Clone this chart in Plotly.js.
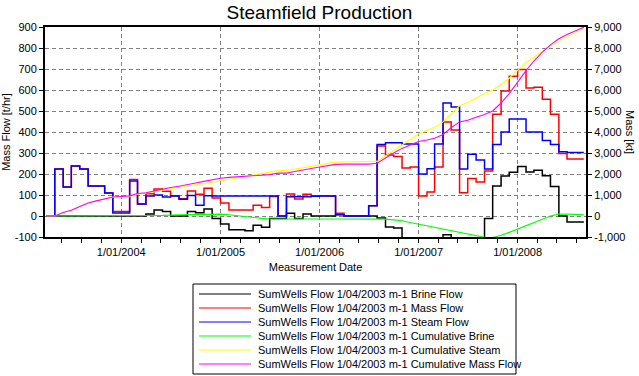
<!DOCTYPE html>
<html><head><meta charset="utf-8">
<script src="https://cdn.plot.ly/plotly-3.0.1.min.js"></script>
<style>html,body{margin:0;padding:0;background:#fff}#chart{width:639px;height:376px}</style>
</head><body><div id="chart"></div>
<script>
// ---- data ----
const months = [
 '2003-04-01','2003-05-01','2003-06-01','2003-07-01','2003-08-01','2003-09-01','2003-10-01','2003-11-01','2003-12-01',
 '2004-01-01','2004-02-01','2004-03-01','2004-04-01','2004-05-01','2004-06-01','2004-07-01','2004-08-01','2004-09-01','2004-10-01','2004-11-01','2004-12-01',
 '2005-01-01','2005-02-01','2005-03-01','2005-04-01','2005-05-01','2005-06-01','2005-07-01','2005-08-01','2005-09-01','2005-10-01','2005-11-01','2005-12-01',
 '2006-01-01','2006-02-01','2006-03-01','2006-04-01','2006-05-01','2006-06-01','2006-07-01','2006-08-01','2006-09-01','2006-10-01','2006-11-01','2006-12-01',
 '2007-01-01','2007-02-01','2007-03-01','2007-04-01','2007-05-01','2007-06-01','2007-07-01','2007-08-01','2007-09-01','2007-10-01','2007-11-01','2007-12-01',
 '2008-01-01','2008-02-01','2008-03-01','2008-04-01','2008-05-01','2008-06-01','2008-07-01','2008-08-01','2008-09-01'
];
const brineFlow = [
 0,0,0,0,0,0,0,0,0,
 0,0,0,10,28,22,0,0,22,16,33,-12,
 -38,-66,-66,-70,-44,-53,-12,-12,13,-12,9,0,
 0,0,7,0,0,0,0,-10,-52,-57,-114,-110,
 -105,-111,-110,-89,-109,-113,-115,-105,-12,143,190,208,
 236,210,218,192,141,0,-29,-29,-29
];
const massFlow = [
 0,224,138,238,224,143,143,110,22,
 22,174,57,106,128,118,97,82,119,104,132,86,
 62,28,28,28,51,41,93,0,105,81,104,97,
 96,95,13,0,0,0,49,333,290,283,229,233,
 95,114,233,448,410,111,179,162,214,484,595,665,
 698,610,613,556,484,298,271,271,271
];
const steamFlow = [
 0,224,138,238,224,143,143,110,14,
 14,167,57,95,100,90,95,80,98,51,97,95,
 95,95,95,95,95,95,95,0,92,92,92,94,
 95,95,6,0,0,0,49,341,349,349,343,343,
 200,225,343,538,519,224,294,267,224,341,400,462,
 462,400,400,359,341,306,302,302,302
];
const cumBrine = [
 0,0,0,0,0,0,0,0,0,
 0,0,0,0,7,28,44,48,48,60,75,95,
 90,60,15,-35,-80,-115,-140,-145,-150,-145,-150,-145,
 -145,-145,-145,-140,-140,-140,-140,-140,-147,-185,-227,-310,
 -390,-468,-543,-625,-690,-770,-852,-938,-1016,-1025,-920,-780,
 -625,-450,-305,-143,-5,97,97,76,55
];
const cumSteam = [
 0,0,167,266,443,610,713,819,898,
 908,918,1034,1076,1150,1230,1300,1370,1430,1500,1540,1610,
 1680,1750,1810,1880,1950,2020,2090,2160,2160,2230,2300,2370,
 2430,2500,2565,2570,2570,2570,2570,2600,2860,3110,3380,3640,
 3920,4070,4220,4480,4860,5250,5410,5630,5830,6000,6260,6560,
 6950,7300,7560,7850,8100,8340,8560,8750,8930
];
const cumMass = [
 0,0,167,270,450,620,720,830,905,
 930,960,1070,1110,1190,1280,1360,1420,1480,1570,1650,1740,
 1800,1840,1860,1880,1900,1940,1970,2040,2040,2120,2180,2260,
 2330,2400,2460,2470,2470,2470,2470,2510,2780,3000,3220,3390,
 3550,3620,3700,3880,4200,4480,4560,4700,4830,5000,5380,5830,
 6380,6920,7380,7800,8150,8440,8640,8820,8990
];
const seriesNames = [
 'SumWells Flow 1/04/2003 m-1 Brine Flow',
 'SumWells Flow 1/04/2003 m-1 Mass Flow',
 'SumWells Flow 1/04/2003 m-1 Steam Flow',
 'SumWells Flow 1/04/2003 m-1 Cumulative Brine',
 'SumWells Flow 1/04/2003 m-1 Cumulative Steam',
 'SumWells Flow 1/04/2003 m-1 Cumulative Mass Flow'
];
const seriesColors = ['#000000','#ff0000','#0000ff','#00ff00','#ffff00','#ff00ff'];
const xTickVals = ['2004-01-01','2005-01-01','2006-01-01','2007-01-01','2008-01-01'];
const xTickText = ['1/01/2004','1/01/2005','1/01/2006','1/01/2007','1/01/2008'];
const yTickVals = [-100,0,100,200,300,400,500,600,700,800,900];
const yTickText = ['-100','0','100','200','300','400','500','600','700','800','900'];
const y2TickVals = [-1000,0,1000,2000,3000,4000,5000,6000,7000,8000,9000];
const y2TickText = ['-1,000','0','1,000','2,000','3,000','4,000','5,000','6,000','7,000','8,000','9,000'];

// ---- geometry / style ----
const W = 639, H = 376;
const M = {l: 45, r: 53, t: 27, b: 139};
const plotW = W - M.l - M.r, plotH = H - M.t - M.b;
const px2x = p => (p - M.l) / plotW;
const py2y = p => (H - M.b - p) / plotH;
const FONT = 'Liberation Sans, Arial, sans-serif';

const flowSeries = [brineFlow, massFlow, steamFlow];
const cumSeries = [cumBrine, cumSteam, cumMass];
const traces = [];
flowSeries.forEach((ys, i) => traces.push({
  x: months, y: ys, type: 'scatter', mode: 'lines', name: seriesNames[i],
  line: {color: seriesColors[i], width: 1.5, shape: 'hv'}, yaxis: 'y', showlegend: false
}));
cumSeries.forEach((ys, i) => traces.push({
  x: months, y: ys, type: 'scatter', mode: 'lines', name: seriesNames[i + 3],
  line: {color: seriesColors[i + 3], width: 1.1}, yaxis: 'y2', showlegend: false
}));

// manual legend (compact rows like the reference)
const legBox = {x0: 193, x1: 516, y0: 284, y1: 374};
const rowTop = 294, rowGap = 14;
const shapes = [{
  type: 'rect', xref: 'paper', yref: 'paper',
  x0: px2x(legBox.x0), x1: px2x(legBox.x1), y0: py2y(legBox.y1), y1: py2y(legBox.y0),
  line: {color: '#000', width: 1}, fillcolor: '#fff', layer: 'below'
}];
const annotations = [];
seriesNames.forEach((nm, i) => {
  const yy = py2y(rowTop + i * rowGap);
  shapes.push({type: 'line', xref: 'paper', yref: 'paper', x0: px2x(199), x1: px2x(251), y0: yy, y1: yy,
    line: {color: seriesColors[i], width: 1.2}});
  annotations.push({xref: 'paper', yref: 'paper', x: px2x(256), y: yy, xanchor: 'left', yanchor: 'middle',
    text: nm, showarrow: false, font: {family: FONT, size: 11, color: '#000'}});
});
annotations.push({xref: 'paper', yref: 'paper', x: px2x(630), y: 0.5, xanchor: 'center', yanchor: 'middle',
  text: 'Mass [kt]', textangle: 90, showarrow: false, font: {family: FONT, size: 11, color: '#000'}});

const axisCommon = {
  showline: true, linecolor: '#000', linewidth: 2, zeroline: false,
  ticks: 'outside', ticklen: 4, tickcolor: '#000', tickwidth: 1,
  tickfont: {family: FONT, size: 11, color: '#000'},
  gridcolor: '#808080', griddash: '4px,3px', gridwidth: 1
};

const layout = {
  width: W, height: H, margin: M,
  paper_bgcolor: '#fff', plot_bgcolor: '#fff',
  font: {family: FONT, size: 11, color: '#000'},
  title: {text: 'Steamfield Production', font: {family: FONT, size: 19, color: '#000'},
          x: 0.5, xanchor: 'center', y: 1 - 12 / H, yanchor: 'middle'},
  showlegend: false,
  xaxis: Object.assign({}, axisCommon, {
    type: 'date', range: ['2003-03-26', '2008-09-09'], mirror: true,
    tickmode: 'array', tickvals: xTickVals, ticktext: xTickText, showgrid: true,
    minor: {dtick: 73 * 86400000, tick0: '2003-01-01', ticks: 'outside', ticklen: 4, tickcolor: '#000', showgrid: false},
    title: {text: 'Measurement Date', font: {family: FONT, size: 11, color: '#000'}, standoff: 6}
  }),
  yaxis: Object.assign({}, axisCommon, {
    range: [-100, 900], mirror: true, tickmode: 'array', tickvals: yTickVals, ticktext: yTickText, showgrid: true,
    title: {text: 'Mass Flow [t/hr]', font: {family: FONT, size: 11, color: '#000'}, standoff: 3}
  }),
  yaxis2: Object.assign({}, axisCommon, {
    range: [-1000, 9000], overlaying: 'y', side: 'right', showgrid: false,
    tickmode: 'array', tickvals: y2TickVals, ticktext: y2TickText
  }),
  shapes: shapes, annotations: annotations
};

Plotly.newPlot('chart', traces, layout, {staticPlot: true, displayModeBar: false});
</script>
</body></html>
